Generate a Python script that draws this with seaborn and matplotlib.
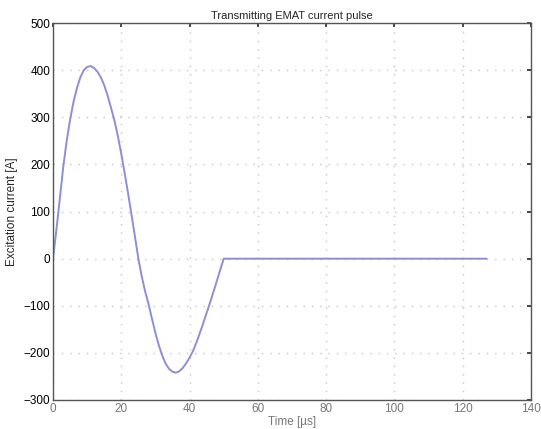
import matplotlib
matplotlib.use("Agg")
import matplotlib.pyplot as plt
import seaborn as sns
import pandas as pd

# Data
time_us = [0, 1, 2, 3, 4, 5, 6, 7, 8, 9, 10, 11, 12, 13, 14, 15, 16, 17, 18, 19,
           20, 21, 22, 23, 24, 25, 26, 27, 28, 29, 30, 31, 32, 33, 34, 35, 36,
           37, 38, 39, 40, 41, 42, 43, 44, 45, 46, 47, 48, 49, 50, 127]
current_a = [0, 62, 128, 195, 250, 295, 333, 362, 385, 400, 407, 409, 405, 397,
             385, 368, 346, 320, 293, 260, 222, 181, 138, 93, 47, 0, -38, -70,
             -97, -128, -158, -184, -206, -223, -234, -240, -242, -239, -232,
             -222, -210, -196, -178, -158, -137, -115, -93, -70, -47, -23, 0, 0]

x_ticks = [0, 20, 40, 60, 80, 100, 120, 140]
y_ticks = [-300, -200, -100, 0, 100, 200, 300, 400, 500]

df = pd.DataFrame({"Time": time_us, "Current": current_a})

sns.set_theme(style="white")
plt.rcParams["font.family"] = ["Liberation Sans", "DejaVu Sans"]

fig = plt.figure(figsize=(5.41, 4.29), dpi=100)
ax = fig.add_axes([0.098, 0.0676, 0.8835, 0.8784])

sns.lineplot(data=df, x="Time", y="Current", ax=ax, color="#8e8ed6",
             linewidth=1.4, estimator=None, sort=False)

ax.set_xlim(0, 140)
ax.set_ylim(-300, 500)
ax.set_xticks(x_ticks)
ax.set_yticks(y_ticks)
ax.grid(True, linestyle=(0, (1, 5)), color="#c4c4c4", linewidth=1.0)
ax.tick_params(direction="in", length=3, top=True, right=True,
               labelsize=8.5, colors="#333333", labelcolor="black", pad=2)
for lab in ax.get_xticklabels():
    lab.set_color("#777777")
for s in ax.spines.values():
    s.set_color("#555555")
    s.set_linewidth(1.0)

ax.set_title("Transmitting EMAT current pulse", fontsize=8, pad=3)
ax.set_xlabel("Time [\u00b5s]", fontsize=8.5, color="#777777", labelpad=1)
ax.set_ylabel("Excitation current [A]", fontsize=8.5, labelpad=4)

fig.savefig("out.png", dpi=100)
